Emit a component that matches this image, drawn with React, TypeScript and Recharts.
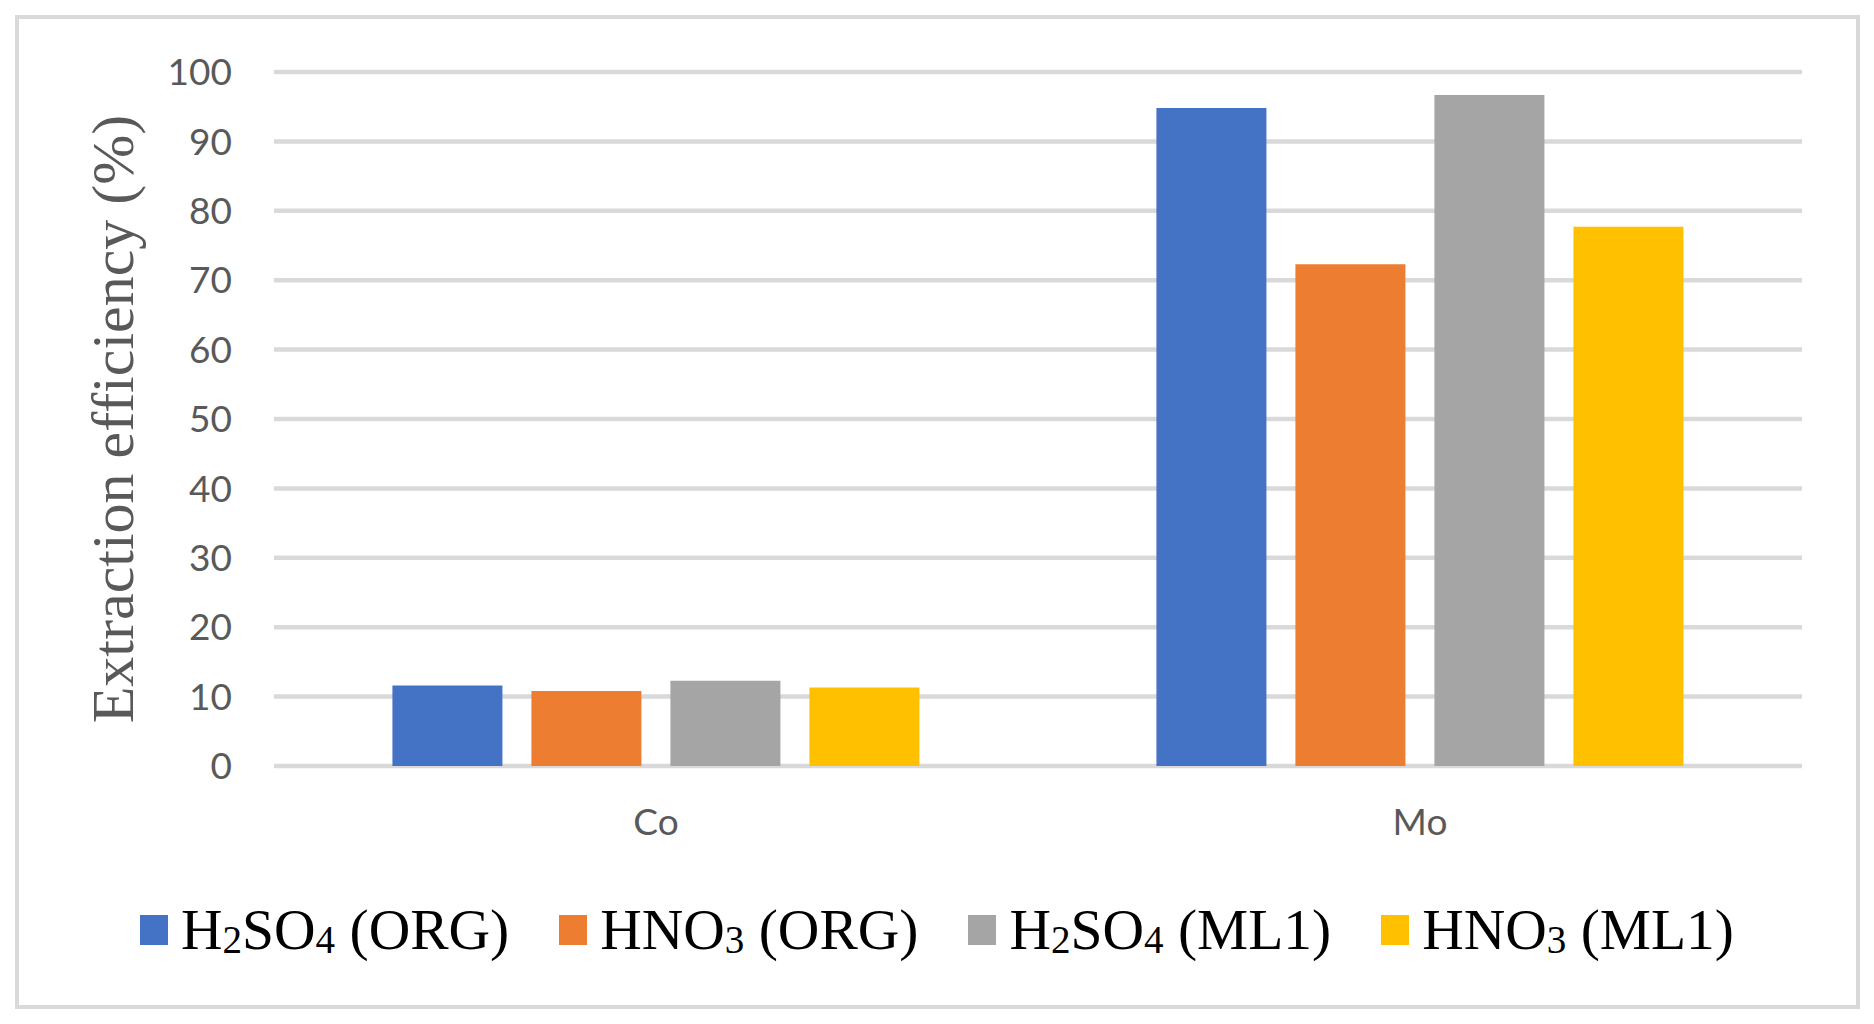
import React from 'react';
import { BarChart, Bar, XAxis, YAxis, CartesianGrid, Legend } from 'recharts';

const categories = ['Co', 'Mo'];
const h2so4Org = [11.6, 94.8];
const hno3Org = [10.8, 72.3];
const h2so4Ml1 = [12.3, 96.7];
const hno3Ml1 = [11.3, 77.7];
const yTicks = [0, 10, 20, 30, 40, 50, 60, 70, 80, 90, 100];

const seriesInfo = [
  { key: 'h2so4Org', color: '#4472C4', parts: [['H', false], ['2', true], ['SO', false], ['4', true], [' (ORG)', false]] },
  { key: 'hno3Org', color: '#ED7D31', parts: [['HNO', false], ['3', true], [' (ORG)', false]] },
  { key: 'h2so4Ml1', color: '#A5A5A5', parts: [['H', false], ['2', true], ['SO', false], ['4', true], [' (ML1)', false]] },
  { key: 'hno3Ml1', color: '#FFC000', parts: [['HNO', false], ['3', true], [' (ML1)', false]] },
];

const data = categories.map((c, i) => ({
  name: c,
  h2so4Org: h2so4Org[i],
  hno3Org: hno3Org[i],
  h2so4Ml1: h2so4Ml1[i],
  hno3Ml1: hno3Ml1[i],
}));

const LegendContent = () => (
  <div
    style={{
      display: 'flex',
      justifyContent: 'center',
      alignItems: 'center',
      gap: 50,
      height: 70,
      fontFamily: '"Liberation Serif", serif',
      fontSize: 57.5,
      color: '#000',
      lineHeight: 1,
    }}
  >
    {seriesInfo.map((s) => (
      <div key={s.key} style={{ display: 'flex', alignItems: 'center' }}>
        <span style={{ display: 'inline-block', width: 28, height: 30, background: s.color, marginRight: 13 }} />
        <span style={{ whiteSpace: 'pre' }}>
          {s.parts.map(([t, sub], j) =>
            sub ? (
              <span key={j} style={{ fontSize: '0.68em', verticalAlign: '-0.1em', lineHeight: 1 }}>{t as string}</span>
            ) : (
              <span key={j}>{t as string}</span>
            )
          )}
        </span>
      </div>
    ))}
  </div>
);

const YLabel = (props: any) => {
  const vb = props.viewBox || {};
  const cy = vb.y + vb.height / 2;
  const cx = 133;
  return (
    <text
      x={cx}
      y={cy}
      transform={`rotate(-90, ${cx}, ${cy})`}
      textAnchor="middle"
      fill="#595959"
      fontFamily='"Liberation Serif", serif'
      fontSize={60}
    >
      Extraction efficiency (%)
    </text>
  );
};

export default function App() {
  return (
    <div style={{ position: 'absolute', left: 0, top: 0, width: 1874, height: 1024, background: '#fff' }}>
      <div
        style={{
          position: 'absolute',
          left: 15,
          top: 15,
          width: 1845,
          height: 994,
          border: '4.5px solid #d9d9d9',
          boxSizing: 'border-box',
        }}
      />
      <div style={{ position: 'absolute', left: 0, top: 0 }}>
        <BarChart
          width={1874}
          height={1024}
          data={data}
          margin={{ top: 72, right: 72, bottom: 198, left: 194 }}
          barCategoryGap="15.5%"
          barGap={29}
        >
          <CartesianGrid vertical={false} stroke="#d9d9d9" strokeWidth={4.5} />
          <XAxis
            dataKey="name"
            height={60}
            axisLine={false}
            tickLine={false}
            tickSize={0}
            tickMargin={43}
            tick={{ fill: '#595959', fontSize: 37, fontFamily: 'Lato, sans-serif' }}
          />
          <YAxis
            width={80}
            domain={[0, 100]}
            ticks={yTicks}
            interval={0}
            axisLine={false}
            tickLine={false}
            tickSize={0}
            tickMargin={42}
            tick={{ fill: '#595959', fontSize: 37, fontFamily: 'Lato, sans-serif' }}
            label={<YLabel />}
          />
          <Legend
            layout="horizontal"
            verticalAlign="middle"
            align="center"
            content={<LegendContent />}
            wrapperStyle={{ top: 895, left: 0, width: 1874, height: 70 }}
          />
          {seriesInfo.map((s) => (
            <Bar key={s.key} dataKey={s.key} fill={s.color} isAnimationActive={false} />
          ))}
        </BarChart>
      </div>
    </div>
  );
}
